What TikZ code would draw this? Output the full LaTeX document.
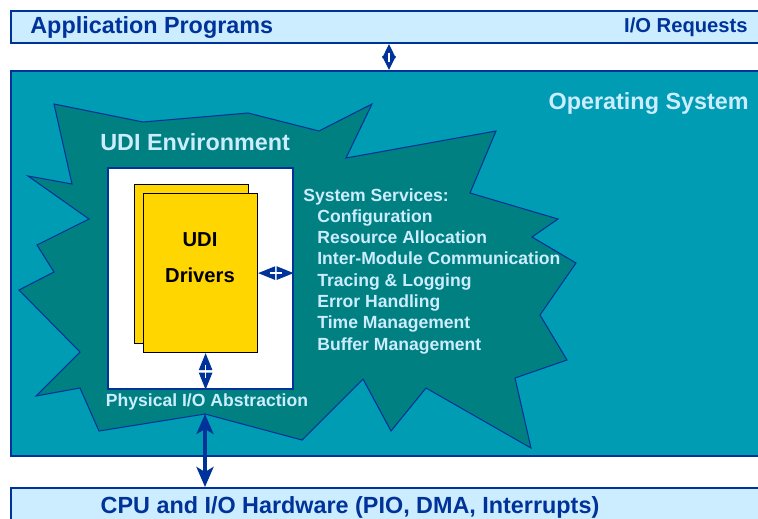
\documentclass[tikz,border=0pt]{standalone}
\usepackage{fontspec}
\setmainfont{Liberation Sans}
\usetikzlibrary{arrows.meta}

\definecolor{udinavy}{RGB}{0,51,153}
\definecolor{udisky}{RGB}{204,236,255}
\definecolor{uditeal}{RGB}{0,156,180}
\definecolor{udidark}{RGB}{0,128,128}
\definecolor{udigold}{RGB}{255,214,0}

\tikzset{
  bar/.style={draw=udinavy, line width=1.2pt, fill=udisky, anchor=north west, inner sep=0pt, minimum width=15.2cm},
  page/.style={draw=black, line width=0.7pt, fill=udigold, anchor=north west, inner sep=0pt, minimum width=2.28cm, minimum height=3.18cm},
  bigtext/.style={font=\fontsize{13.3}{16}\selectfont\bfseries, inner sep=0pt},
  smalltext/.style={font=\fontsize{10}{12}\selectfont\bfseries, text=udisky, inner sep=0pt},
  dubarrow/.style={draw=udinavy, line width=0.6pt, {Triangle[length=#1,width=0.27cm]}-{Triangle[length=#1,width=0.27cm]}},
  dubarrow/.default=0.34cm,
  dubcore/.style={draw=white, line width=0.8pt, shorten <=#1, shorten >=#1},
  dubcore/.default=0.23cm,
  longarrow/.style={draw=udinavy, line width=2.1pt, {Stealth[length=0.4cm,width=0.34cm,inset=0.1cm]}-{Stealth[length=0.4cm,width=0.34cm,inset=0.1cm]}}
}

\begin{document}
\begin{tikzpicture}[x=0.02cm, y=-0.02cm]
\clip (0,0) rectangle (758,518);

% the three layers
\node[bar, minimum height=0.64cm] (apps) at (10,10) {};
\node[bar, fill=uditeal, minimum height=7.7cm] (os) at (10,70) {};
\node[bar, minimum height=1cm] (hw) at (10,487) {};

\node[bigtext, text=udinavy, anchor=base west] (appstxt) at (30,33) {Application Programs};
\node[bigtext, text=udinavy, font=\fontsize{11.5}{14}\selectfont\bfseries, anchor=base east] (reqtxt) at (748,32) {I/O Requests};
\node[bigtext, text=udisky, anchor=base east] (ostxt) at (749,109) {Operating System};
\node[bigtext, text=udinavy, anchor=base] (hwtxt) at (350,513) {CPU and I/O Hardware (PIO, DMA, Interrupts)};

% UDI environment burst
\draw[draw=udinavy, line width=0.6pt, fill=udidark]
  (54,104) -- (143,122) -- (248,113) -- (319,131) -- (372,104) -- (346,158)
  -- (496,131) -- (470,193) -- (558,219) -- (532,237) -- (576,263) -- (540,315)
  -- (567,360) -- (515,378) -- (531,448) -- (426,388) -- (391,431) -- (363,379)
  -- (302,440) -- (205,414) coordinate (burstbot) -- (99,431) -- (80,388) -- (36,396)
  -- (80,352) -- (19,290) -- (54,272) -- (37,245) -- (89,219) -- (28,176)
  -- (72,184) -- cycle;
\node[bigtext, text=udisky, anchor=base west] (envtxt) at (100,150) {UDI Environment};

% drivers
\node[draw=udinavy, line width=0.9pt, fill=white, anchor=north west, inner sep=0pt,
  minimum width=3.7cm, minimum height=4.42cm] (env) at (107,167) {};
\node[page] (drv-) at (134,184) {};
\node[page] (drv) at (143,193) {};
\node[font=\fontsize{11.5}{14}\selectfont\bfseries, inner sep=0pt] (udi) at (200,240) {UDI};
\node[font=\fontsize{11.5}{14}\selectfont\bfseries, inner sep=0pt] (drvtxt) at (200,275) {Drivers};
\node[smalltext, anchor=base] (phys) at (207,406) {Physical I/O Abstraction};

% system services
\node[smalltext, anchor=base west] (svc0) at (303,201) {System Services:};
\foreach \svc [count=\i] in {Configuration, Resource Allocation, Inter-Module Communication,
    Tracing \& Logging, Error Handling, Time Management, Buffer Management}
  \node[smalltext, anchor=base west] (svc\i) at (317,{201+21.3*\i}) {\svc};

% arrows
\coordinate (a1) at (389,0);
\coordinate (a2) at ([xshift=0.1cm]drv.south);
\draw[dubarrow=0.28cm] (a1 |- apps.south) -- (a1 |- os.north);
\draw[dubcore=0.17cm] (a1 |- apps.south) -- (a1 |- os.north);
\draw[dubarrow] (drv.east) -- (drv.east -| env.east);
\draw[dubcore] (drv.east) -- (drv.east -| env.east);
\draw[dubarrow] (a2) -- (a2 |- env.south);
\draw[dubcore] (a2) -- (a2 |- env.south);
\draw[longarrow] (burstbot) -- (burstbot |- hw.north);
\end{tikzpicture}
\end{document}
